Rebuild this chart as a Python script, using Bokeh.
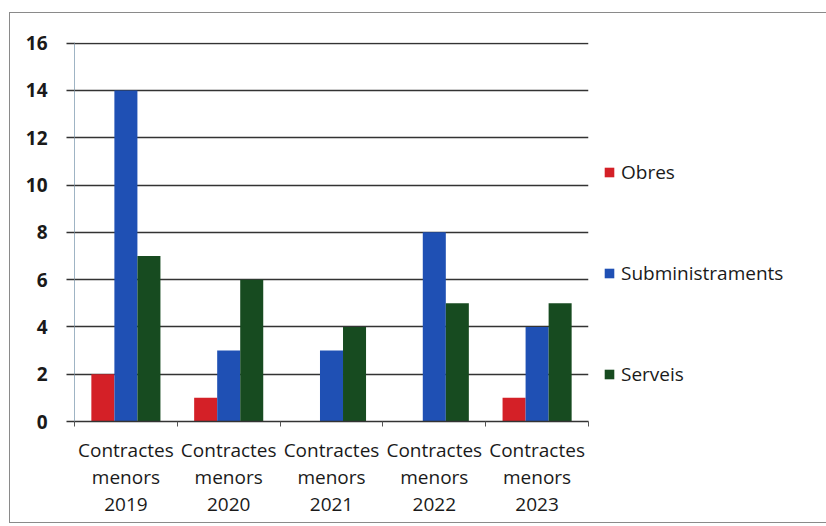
from bokeh.plotting import figure
from bokeh.models import ColumnDataSource, FixedTicker, Legend, LegendItem, Range1d
from bokeh.transform import dodge
from bokeh.embed import file_html
from bokeh.resources import INLINE

categories = ["Contractes\nmenors\n2019", "Contractes\nmenors\n2020", "Contractes\nmenors\n2021",
              "Contractes\nmenors\n2022", "Contractes\nmenors\n2023"]
obres = [2, 1, 0, 0, 1]
subministraments = [14, 3, 3, 8, 4]
serveis = [7, 6, 4, 5, 5]
series_names = ["Obres", "Subministraments", "Serveis"]
colors = ["#d42027", "#1f50b4", "#174b20"]
y_ticks = [0, 2, 4, 6, 8, 10, 12, 14, 16]

xs = [i + 0.5 for i in range(len(categories))]
src = ColumnDataSource(dict(x=xs, obres=obres, sub=subministraments, serv=serveis))

FONT = "Open Sans"

p = figure(frame_width=514, frame_height=379,
           min_border_left=64, min_border_top=29, min_border_right=10, min_border_bottom=101,
           x_range=Range1d(0, len(categories)), y_range=Range1d(0, 16.03),
           output_backend="svg", toolbar_location=None, tools="")
p.margin = (12, 0, 0, 9)
p.styles = {"border": "1px solid #8a8a8a"}
p.outline_line_color = None
p.background_fill_color = "white"
p.border_fill_color = "white"

w = 0.224
r1 = p.vbar(x=dodge("x", -w, range=p.x_range), top="obres", width=w, source=src,
            fill_color=colors[0], line_color=None)
r2 = p.vbar(x=dodge("x", 0, range=p.x_range), top="sub", width=w, source=src,
            fill_color=colors[1], line_color=None)
r3 = p.vbar(x=dodge("x", w, range=p.x_range), top="serv", width=w, source=src,
            fill_color=colors[2], line_color=None)

# x axis
p.xaxis.ticker = FixedTicker(ticks=xs, minor_ticks=list(range(len(categories) + 1)))
p.xaxis.major_label_overrides = {x: c for x, c in zip(xs, categories)}
p.xaxis.major_tick_line_color = None
p.xaxis.major_tick_out = 0
p.xaxis.major_tick_in = 0
p.xaxis.minor_tick_out = 5
p.xaxis.minor_tick_in = 0
p.xaxis.minor_tick_line_color = "#555555"
p.xaxis.axis_line_color = "#333333"
p.xaxis.axis_line_width = 1.5
p.xaxis.major_label_text_font = FONT
p.xaxis.major_label_text_font_size = "19px"
p.xaxis.major_label_text_color = "#1a1a1a"
p.xaxis.major_label_text_line_height = 1.05
p.xaxis.major_label_standoff = 10
p.xgrid.grid_line_color = None

# y axis
p.yaxis.ticker = FixedTicker(ticks=y_ticks)
p.yaxis.minor_tick_line_color = None
p.yaxis.major_tick_out = 8
p.yaxis.major_tick_in = 0
p.yaxis.major_tick_line_color = "#333333"
p.yaxis.major_tick_line_width = 1.5
p.yaxis.axis_line_color = "#9fb4c4"
p.yaxis.axis_line_width = 1
p.yaxis.major_label_text_font = FONT
p.yaxis.major_label_text_font_size = "19px"
p.yaxis.major_label_text_font_style = "bold"
p.yaxis.major_label_text_color = "#1a1a1a"
p.yaxis.major_label_standoff = 19
p.ygrid.grid_line_color = "#333333"
p.ygrid.grid_line_width = 1.5
p.ygrid.ticker = FixedTicker(ticks=y_ticks)

legend = Legend(items=[LegendItem(label=n, renderers=[r]) for n, r in zip(series_names, [r1, r2, r3])],
                location=(15, 34), orientation="vertical",
                glyph_width=12, glyph_height=12, label_height=26, spacing=75,
                label_standoff=6, padding=0, margin=0,
                border_line_color=None, background_fill_alpha=0,
                label_text_font=FONT, label_text_font_size="19px", label_text_color="#1a1a1a")
p.add_layout(legend, "right")

open("out.html", "w").write(file_html(p, INLINE))
